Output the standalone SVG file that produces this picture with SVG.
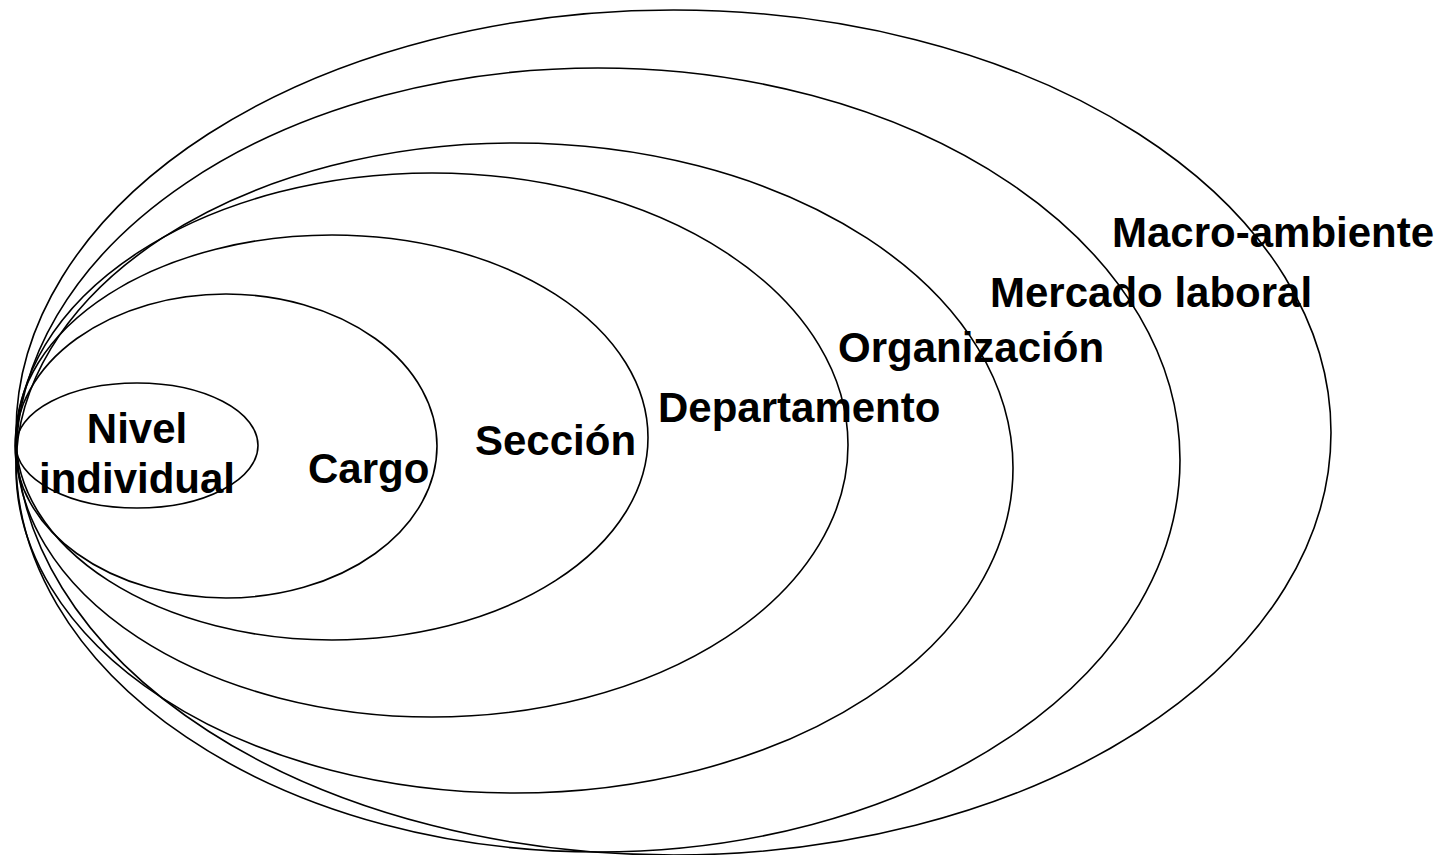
<svg xmlns="http://www.w3.org/2000/svg" width="1450" height="855" viewBox="0 0 1450 855">
  <style>
    .ring { fill: none; stroke: #000; stroke-width: 1.6; }
    .lbl { font-family: "Liberation Sans", Arial, sans-serif; font-weight: bold; font-size: 42px; fill: #000; }
  </style>
  <rect x="0" y="0" width="1450" height="855" fill="#fff"/>
  <!-- outer to inner levels, all sharing the left edge -->
  <g id="macro-ambiente">
    <ellipse class="ring" cx="673.5" cy="432.5" rx="657.5" ry="422.5"/>
    <text class="lbl" x="1112" y="247">Macro-ambiente</text>
  </g>
  <g id="mercado-laboral">
    <ellipse class="ring" cx="598" cy="460" rx="582" ry="392"/>
    <text class="lbl" x="990" y="307">Mercado laboral</text>
  </g>
  <g id="organizacion">
    <ellipse class="ring" cx="514.5" cy="468" rx="498.5" ry="325"/>
    <text class="lbl" x="838" y="362">Organización</text>
  </g>
  <g id="departamento">
    <ellipse class="ring" cx="432" cy="445" rx="416" ry="272"/>
    <text class="lbl" x="658" y="422">Departamento</text>
  </g>
  <g id="seccion">
    <ellipse class="ring" cx="332" cy="437.5" rx="316" ry="202.5"/>
    <text class="lbl" x="475" y="455">Sección</text>
  </g>
  <g id="cargo">
    <ellipse class="ring" cx="226" cy="446" rx="211" ry="152"/>
    <text class="lbl" x="308" y="483">Cargo</text>
  </g>
  <g id="nivel-individual">
    <ellipse class="ring" cx="137" cy="445.5" rx="121" ry="62.5"/>
    <text class="lbl" text-anchor="middle" x="137" y="443">Nivel</text>
    <text class="lbl" text-anchor="middle" x="137" y="493">individual</text>
  </g>
  <g id="connectors"/>
</svg>
